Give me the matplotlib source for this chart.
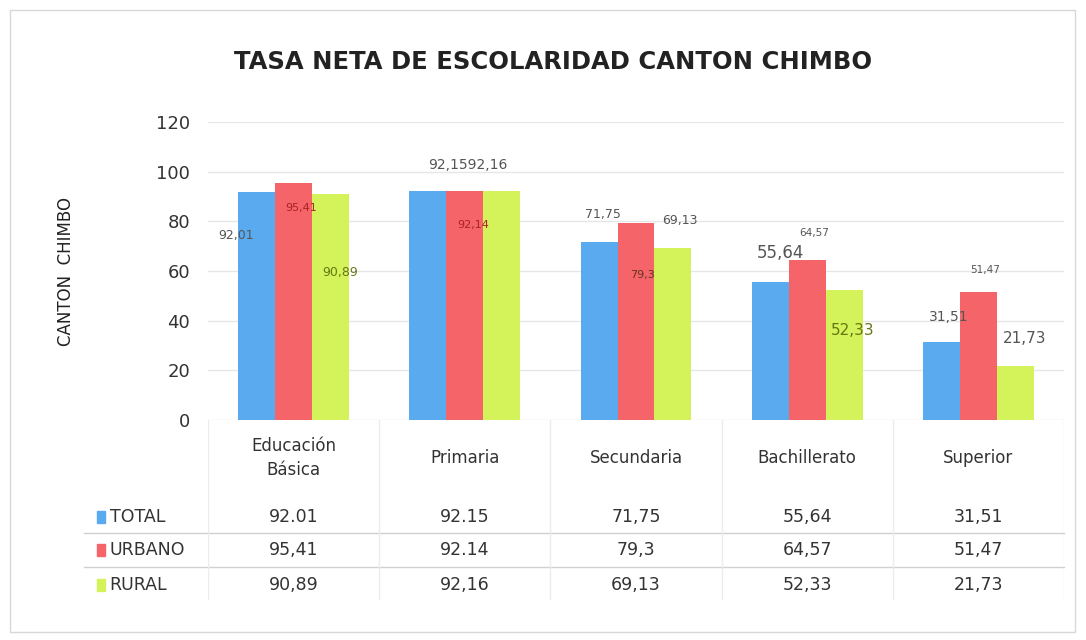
import numpy as np
import matplotlib.pyplot as plt
from matplotlib.patches import Rectangle
import matplotlib.transforms as mtransforms

# datos
categorias = ["Educación\nBásica", "Primaria", "Secundaria", "Bachillerato", "Superior"]
series = ["TOTAL", "URBANO", "RURAL"]
total = [92.01, 92.15, 71.75, 55.64, 31.51]
urbano = [95.41, 92.14, 79.3, 64.57, 51.47]
rural = [90.89, 92.16, 69.13, 52.33, 21.73]
tabla_txt = [
    ["92.01", "92.15", "71,75", "55,64", "31,51"],
    ["95,41", "92.14", "79,3", "64,57", "51,47"],
    ["90,89", "92,16", "69,13", "52,33", "21,73"],
]
etiquetas = [
    ["92,01", "", "71,75", "55,64", "31,51"],
    ["95,41", "92,14", "79,3", "64,57", "51,47"],
    ["90,89", "", "69,13", "52,33", "21,73"],
]
colores = ["#5aaaf0", "#f46468", "#d4f25a"]

W, H = 1086, 640
fig = plt.figure(figsize=(W / 100, H / 100), dpi=100)
fig.patch.set_facecolor("white")

# marco exterior
fig.add_artist(Rectangle((10 / W, 8 / H), 1065 / W, 622 / H, transform=fig.transFigure,
                         fill=False, edgecolor="#d8d8d8", lw=1))

x0, x1 = 208, 1064
ax = fig.add_axes([x0 / W, (H - 420) / H, (x1 - x0) / W, 298 / H])
x = np.arange(len(categorias))
ancho = 0.216
valores = [total, urbano, rural]
for i, (vals, c) in enumerate(zip(valores, colores)):
    ax.bar(x + (i - 1) * ancho, vals, ancho, color=c, zorder=2)

ax.set_xlim(-0.5, len(categorias) - 0.5)
ax.set_ylim(0, 120)
ax.set_yticks(range(0, 121, 20))
ax.tick_params(axis="y", length=0, labelsize=13, pad=13, labelcolor="#333333")
ax.tick_params(axis="x", length=0, labelbottom=False)
ax.grid(axis="y", color="#e6e6e6", lw=1, zorder=0)
for s in ax.spines.values():
    s.set_visible(False)
ax.set_ylabel("CANTON  CHIMBO", fontsize=12, color="#222222")
ax.yaxis.set_label_coords(-0.155, 0.5)

fig.text(553 / W, 1 - 62 / H, "TASA NETA DE ESCOLARIDAD CANTON CHIMBO",
         ha="center", va="center", fontsize=17.5, fontweight="bold", color="#222222")

# etiquetas de datos: (serie, categoria): (dx px, dy px, color, tamaño)
pos = {
    (0, 0): (-21, -44, "#555555", 9), (1, 0): (8, -25, "#aa2222", 8), (2, 0): (10, -78, "#667711", 9),
    (1, 1): (8, -34, "#aa2222", 8),
    (0, 2): (4, 27, "#555555", 9), (1, 2): (6, -52, "#663322", 8), (2, 2): (7, 28, "#555555", 9),
    (0, 3): (10, 29, "#555555", 12), (1, 3): (7, 27, "#555555", 7.5), (2, 3): (9, -40, "#667711", 11),
    (0, 4): (7, 25, "#555555", 10), (1, 4): (7, 22, "#555555", 7.5), (2, 4): (9, 28, "#555555", 11),
}
for (s, k), (dx, dy, col, fs) in pos.items():
    ax.annotate(etiquetas[s][k], (x[k] + (s - 1) * ancho, valores[s][k]),
                xytext=(dx, dy), textcoords="offset pixels", ha="center", va="center",
                fontsize=fs, color=col, zorder=3)
# Primaria: total y rural juntos arriba
ax.annotate("92,1592,16", (x[1], max(total[1], rural[1])), xytext=(3, 26),
            textcoords="offset pixels", ha="center", va="center", fontsize=10, color="#555555")

# tabla inferior
at = fig.add_axes([x0 / W, 40 / H, (x1 - x0) / W, 180 / H])
at.set_xlim(-0.5, len(categorias) - 0.5)
at.set_ylim(180, 0)
at.axis("off")
for k, c in enumerate(categorias):
    at.text(x[k], 38, c, ha="center", va="center", fontsize=12, color="#333333", linespacing=1.4)
trans = mtransforms.blended_transform_factory(at.transAxes, at.transData)
filas_y = [97, 130, 165]
for r, yy in enumerate(filas_y):
    for k in range(len(categorias)):
        at.text(x[k], yy, tabla_txt[r][k], ha="center", va="center", fontsize=12.5, color="#333333")
    at.add_patch(Rectangle((-0.13, yy - 6), 0.01, 12, transform=trans, color=colores[r],
                           clip_on=False))
    at.text(-0.115, yy, series[r], transform=trans, ha="left", va="center", fontsize=12.5,
            color="#333333", clip_on=False)
for yy in [113, 147]:
    at.plot([-0.145, 1.0], [yy, yy], transform=trans, color="#d0d0d0", lw=1, clip_on=False)
for b in np.arange(-0.5, len(categorias), 1.0):
    at.plot([b, b], [0, 180], color="#ececec", lw=1)

fig.savefig("out.png", dpi=100)
